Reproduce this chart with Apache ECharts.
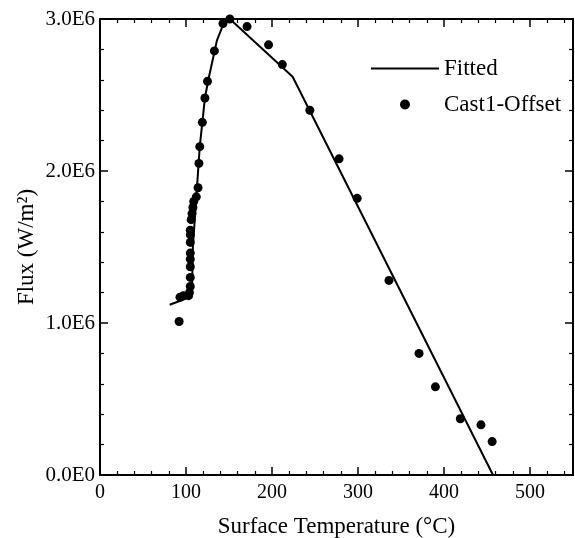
<!DOCTYPE html>
<html>
<head>
<meta charset="utf-8">
<script src="https://cdn.jsdelivr.net/npm/echarts@6/dist/echarts.min.js"></script>
<style>
  html, body { margin: 0; padding: 0; background: #fff; }
  #chart { width: 575px; height: 538px; }
</style>
</head>
<body>
<div id="chart"></div>
<script>
// fitted curve (temperature in degC, flux in W/m2)
const fitTemp = [81, 95, 104, 107, 108, 112, 116, 122, 126, 136, 143, 151, 224, 457];
const fitFlux = [1.12e6, 1.15e6, 1.17e6, 1.2e6, 1.5e6, 1.83e6, 2.16e6, 2.48e6, 2.6e6, 2.86e6, 2.96e6, 3.0e6, 2.62e6, 0];

// measured points, Cast1-Offset
const castTemp = [92, 93, 97, 103, 104, 105, 105, 105, 105, 105, 105, 105, 105, 106, 107, 108, 109, 112, 114, 115,
    116, 119, 122, 125, 133, 143, 151, 171, 196, 212, 244, 278, 299, 336, 371, 390, 419, 443, 456];
const castFlux = [1.01e6, 1.17e6, 1.18e6, 1.18e6, 1.2e6, 1.24e6, 1.3e6, 1.37e6, 1.42e6, 1.46e6, 1.53e6, 1.58e6, 1.61e6,
    1.68e6, 1.72e6, 1.76e6, 1.8e6, 1.83e6, 1.89e6, 2.05e6, 2.16e6, 2.32e6, 2.48e6, 2.59e6, 2.79e6, 2.97e6, 3.0e6,
    2.95e6, 2.83e6, 2.7e6, 2.4e6, 2.08e6, 1.82e6, 1.28e6, 0.8e6, 0.58e6, 0.37e6, 0.33e6, 0.22e6];

const font = 'Liberation Serif';

const chart = echarts.init(document.getElementById('chart'));

const baseAxis = {
    axisLine: { show: true, onZero: false, lineStyle: { color: '#000', width: 2 } },
    axisTick: { show: true, inside: true, length: 8, lineStyle: { color: '#000', width: 1.5 } },
    minorTick: { show: true, splitNumber: 5, length: 4, lineStyle: { color: '#000', width: 1.2 } },
    splitLine: { show: false },
    axisLabel: { color: '#000', fontFamily: font, fontSize: 20 },
    nameTextStyle: { color: '#000', fontFamily: font, fontSize: 23 }
};

chart.setOption({
    animation: false,
    grid: { left: 100, right: 2, top: 19, bottom: 63, outerBoundsMode: 'none' },
    legend: {
        orient: 'vertical',
        left: 370,
        top: 57,
        padding: 0,
        itemWidth: 68,
        itemHeight: 10,
        itemGap: 13,
        textStyle: { color: '#000', fontFamily: font, fontSize: 23 },
        data: [
            { name: 'Fitted', itemStyle: { opacity: 0 } },
            { name: 'Cast1-Offset' }
        ]
    },
    xAxis: [
        Object.assign({}, baseAxis, {
            type: 'value', min: 0, max: 550, interval: 100,
            name: 'Surface Temperature (°C)', nameLocation: 'middle', nameGap: 40,
            axisLabel: Object.assign({}, baseAxis.axisLabel, { margin: 8, showMaxLabel: false })
        }),
        Object.assign({}, baseAxis, {
            type: 'value', min: 0, max: 550, interval: 100, position: 'top',
            axisLabel: { show: false }
        })
    ],
    yAxis: [
        Object.assign({}, baseAxis, {
            type: 'value', min: 0, max: 3e6, interval: 1e6,
            name: 'Flux (W/m²)', nameLocation: 'middle', nameGap: 62, nameMoveOverlap: false,
            axisLabel: Object.assign({}, baseAxis.axisLabel, {
                margin: 5,
                fontSize: 21,
                formatter: v => (v / 1e6).toFixed(1) + 'E' + (v === 0 ? 0 : 6)
            })
        }),
        Object.assign({}, baseAxis, {
            type: 'value', min: 0, max: 3e6, interval: 1e6, position: 'right',
            axisLabel: { show: false }
        })
    ],
    series: [
        {
            name: 'Fitted',
            type: 'line',
            symbol: 'none',
            lineStyle: { color: '#000', width: 2 },
            itemStyle: { color: '#000' },
            data: fitTemp.map((t, i) => [t, fitFlux[i]])
        },
        {
            name: 'Cast1-Offset',
            type: 'scatter',
            symbol: 'circle',
            symbolSize: 9,
            itemStyle: { color: '#000', opacity: 1 },
            data: castTemp.map((t, i) => [t, castFlux[i]])
        }
    ]
});

window.addEventListener('resize', () => chart.resize());
</script>
</body>
</html>
